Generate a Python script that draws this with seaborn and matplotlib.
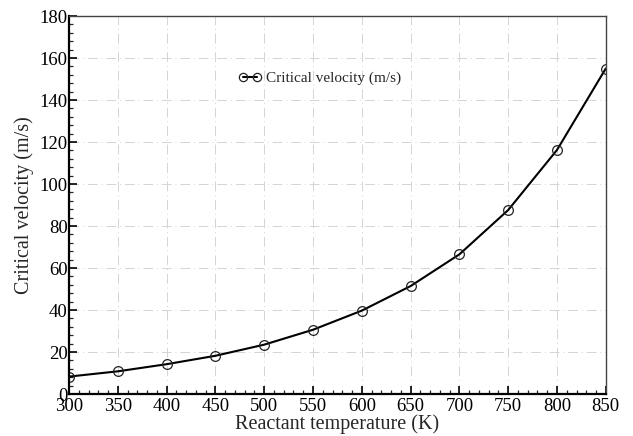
import matplotlib
matplotlib.use("Agg")
import matplotlib.pyplot as plt
import seaborn as sns
import pandas as pd
from matplotlib.ticker import MultipleLocator

temperature = [300, 350, 400, 450, 500, 550, 600, 650, 700, 750, 800, 850]
velocity = [8.3, 10.8, 14.2, 18.2, 23.5, 30.6, 39.7, 51.4, 66.5, 87.6, 116.2, 155.0]
series_name = "Critical velocity (m/s)"

df = pd.DataFrame({"T": temperature, "V": velocity})

sns.set_theme(style="white")
plt.rcParams['font.family'] = ['Liberation Serif', 'DejaVu Serif']

fig = plt.figure(figsize=(6.33, 4.36), dpi=100)
ax = fig.add_axes([0.109, 0.0963, 0.848, 0.867])

sns.lineplot(data=df, x="T", y="V", ax=ax, color="black", linewidth=1.5,
             marker="o", markersize=7, markerfacecolor="none",
             markeredgecolor="#222222", markeredgewidth=0.9, label=series_name)

ax.set_xlim(300, 850)
ax.set_ylim(0, 180)
ax.xaxis.set_major_locator(MultipleLocator(50))
ax.xaxis.set_minor_locator(MultipleLocator(10))
ax.yaxis.set_major_locator(MultipleLocator(20))
ax.yaxis.set_minor_locator(MultipleLocator(4))
ax.grid(True, which="major", color="#d4d4d4", linestyle=(0, (10, 4, 1, 4)), linewidth=0.7)
ax.tick_params(axis="both", which="major", direction="in", length=6, width=1.2,
               labelsize=13.5, colors="black", pad=1, bottom=True, left=True)
ax.tick_params(axis="x", which="major", pad=3)
ax.tick_params(axis="both", which="minor", direction="in", length=3, width=0.9,
               bottom=True, left=True)
for side in ["left", "bottom"]:
    ax.spines[side].set_linewidth(1.6)
    ax.spines[side].set_color("black")
for side in ["top", "right"]:
    ax.spines[side].set_linewidth(1.0)
    ax.spines[side].set_color("#444444")

ax.set_xlabel("Reactant temperature (K)", fontsize=14.5, labelpad=-1)
ax.set_ylabel("Critical velocity (m/s)", fontsize=14.5, labelpad=4)

leg = ax.legend(loc="upper left", bbox_to_anchor=(0.29, 0.89), frameon=False,
                fontsize=11, numpoints=2, handlelength=1.5, handletextpad=0.3,
                markerscale=0.85)

fig.savefig("out.png", dpi=100)
